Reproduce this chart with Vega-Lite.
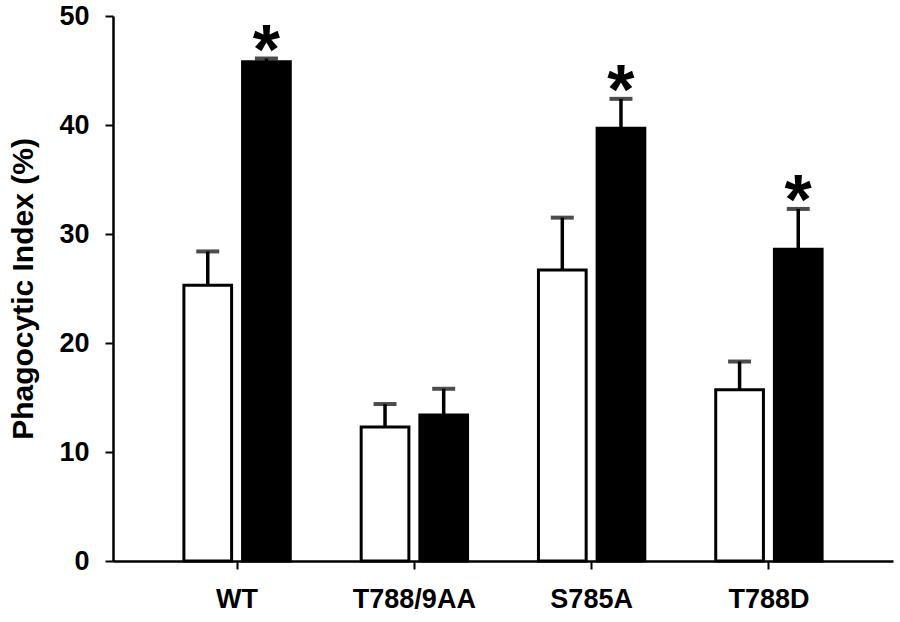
{
  "$schema": "https://vega.github.io/schema/vega-lite/v6.json",
  "autosize": "none",
  "width": 780,
  "height": 545,
  "padding": {"left": 113, "top": 16, "right": 7, "bottom": 61},
  "background": "white",
  "config": {
    "view": {"stroke": null},
    "font": "Liberation Sans"
  },
  "data": {
    "values": [
      {"group": "WT", "treatment": "A", "value": 25.3, "upper": 28.4, "sig": ""},
      {"group": "WT", "treatment": "B", "value": 45.8, "upper": 46.1, "sig": "*"},
      {"group": "T788/9AA", "treatment": "A", "value": 12.3, "upper": 14.4, "sig": ""},
      {"group": "T788/9AA", "treatment": "B", "value": 13.4, "upper": 15.8, "sig": ""},
      {"group": "S785A", "treatment": "A", "value": 26.7, "upper": 31.5, "sig": ""},
      {"group": "S785A", "treatment": "B", "value": 39.7, "upper": 42.4, "sig": "*"},
      {"group": "T788D", "treatment": "A", "value": 15.7, "upper": 18.3, "sig": ""},
      {"group": "T788D", "treatment": "B", "value": 28.6, "upper": 32.3, "sig": "*"}
    ]
  },
  "encoding": {
    "x": {
      "field": "group",
      "type": "nominal",
      "sort": ["WT", "T788/9AA", "S785A", "T788D"],
      "scale": {"paddingInner": 0.4, "paddingOuter": 0.4},
      "axis": {
        "title": null,
        "labelAngle": 0,
        "labelFont": "Liberation Sans",
        "labelFontWeight": "bold",
        "labelFontSize": 27,
        "labelColor": "black",
        "labelPadding": 17,
        "domainColor": "black",
        "domainWidth": 2.5,
        "tickColor": "black",
        "tickWidth": 2,
        "tickSize": 8
      }
    },
    "xOffset": {
      "field": "treatment",
      "type": "nominal",
      "scale": {"paddingInner": 0.187, "paddingOuter": 0}
    }
  },
  "layer": [
    {
      "mark": {"type": "bar", "stroke": "black", "strokeWidth": 3},
      "encoding": {
        "y": {
          "field": "value",
          "type": "quantitative",
          "scale": {"domain": [0, 50], "nice": false},
          "axis": {
            "title": "Phagocytic Index (%)",
            "titleFont": "Liberation Sans",
            "titleFontWeight": "bold",
            "titleFontSize": 30,
            "titleColor": "black",
            "titlePadding": 20,
            "values": [0, 10, 20, 30, 40, 50],
            "grid": false,
            "labelFont": "Liberation Sans",
            "labelFontWeight": "bold",
            "labelFontSize": 27,
            "labelColor": "black",
            "labelPadding": 16,
            "domainColor": "black",
            "domainWidth": 2.5,
            "tickColor": "black",
            "tickWidth": 2,
            "tickSize": 8
          }
        },
        "fill": {
          "field": "treatment",
          "type": "nominal",
          "scale": {"domain": ["A", "B"], "range": ["white", "black"]},
          "legend": null
        }
      }
    },
    {
      "mark": {"type": "rule", "color": "black", "strokeWidth": 3.5},
      "encoding": {
        "y": {"field": "value", "type": "quantitative"},
        "y2": {"field": "upper"}
      }
    },
    {
      "mark": {"type": "tick", "color": "black", "thickness": 4, "size": 23},
      "encoding": {
        "y": {"field": "upper", "type": "quantitative"}
      }
    },
    {
      "mark": {"type": "text", "font": "Liberation Sans", "fontWeight": "bold", "fontSize": 70, "baseline": "alphabetic", "dy": 15, "color": "black"},
      "encoding": {
        "y": {"field": "upper", "type": "quantitative"},
        "text": {"field": "sig"}
      }
    }
  ]
}
